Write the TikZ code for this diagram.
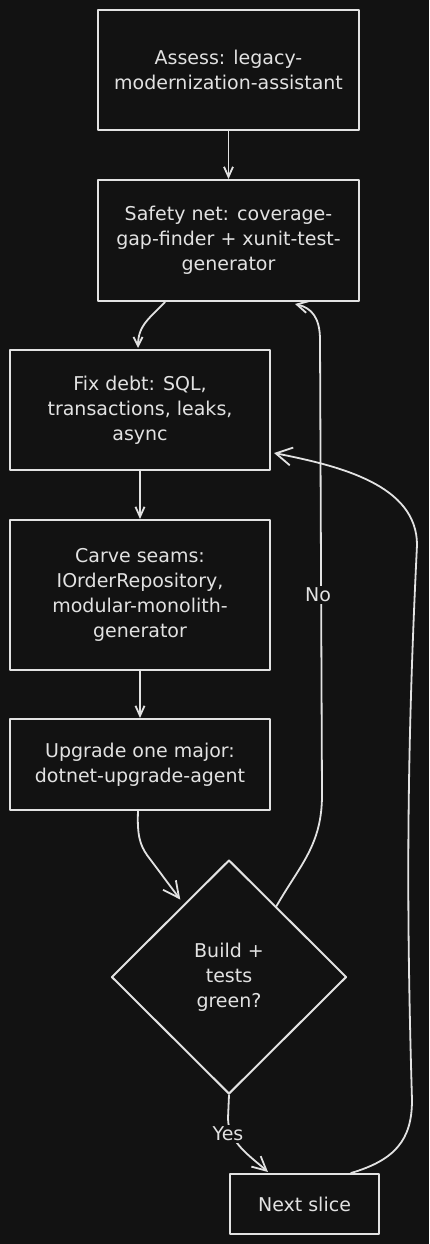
\documentclass[tikz,border=0pt]{standalone}
\usepackage{fontspec}
\setmainfont{DejaVu Sans}
\usetikzlibrary{shapes.geometric,arrows.meta,calc}
\definecolor{bg}{HTML}{121212}
\definecolor{ink}{HTML}{E2E2E2}
\begin{document}
\begin{tikzpicture}[x=1pt,y=-1pt,line join=round,line cap=round,
  box/.style={draw=ink,line width=2pt,text=ink,align=center,inner sep=0pt,
    font=\fontsize{19}{25}\selectfont},
  conn/.style={draw=ink,line width=1.8pt},
  lbl/.style={fill=bg,text=ink,inner sep=2pt,font=\fontsize{19}{25}\selectfont}]
\fill[bg] (0,0) rectangle (429,1244);
\useasboundingbox (0,0) rectangle (429,1244);

\node[box,minimum width=261pt,minimum height=120pt] (assess) at (228.5,70) {Assess: legacy-\\modernization-assistant};
\node[box,minimum width=261pt,minimum height=121pt] (safety) at (228.5,240.5) {Safety net: coverage-\\gap-finder + xunit-test-\\generator};
\node[box,minimum width=260pt,minimum height=120pt] (fix) at (140,410) {Fix debt: SQL,\\transactions, leaks,\\async};
\node[box,minimum width=260pt,minimum height=150pt] (carve) at (140,595) {Carve seams:\\IOrderRepository,\\modular-monolith-\\generator};
\node[box,minimum width=260pt,minimum height=91pt] (upgrade) at (140,764.5) {Upgrade one major:\\dotnet-upgrade-agent};
\node[box,diamond,minimum width=235pt,minimum height=234pt] (check) at (229,977) {Build +\\tests\\green?};
\node[box,minimum width=149pt,minimum height=60pt] (next) at (304.5,1204) {Next slice};

% straight flow
\draw[conn,-{Straight Barb[length=10pt,width=9pt]}] (assess) -- (safety);
\draw[conn,-{Straight Barb[length=9pt,width=9pt]}] ($(safety.south)+(-63.5,0)$) .. controls (150,318) and (138,325) .. ($(fix.north)+(-2,-1)$);
\draw[conn,-{Straight Barb[length=10pt,width=9pt]}] (fix) -- (carve);
\draw[conn,-{Straight Barb[length=10pt,width=9pt]}] (carve) -- (upgrade);
\draw[conn,-{Straight Barb[length=16pt,width=16pt]}] ($(upgrade.south)+(-2,0)$) .. controls (137,835) and (140,845) .. (147,855) -- ($(check.north west)+(10.5,-18.5)$);

% No loop
\draw[conn,-{Straight Barb[length=11pt,width=12pt]}] ($(check.north)!0.4!(check.east)$) .. controls (300,865) and (322,845) .. (322,795) -- (320,340) .. controls (320,318) and (312,308) .. ($(safety.south)+(66.5,2)$);
\node[lbl] (nolbl) at (318,595) {No};

% Yes
\draw[conn,-{Straight Barb[length=14pt,width=14pt]}] (check.south) -- (228,1118) .. controls (228,1142) and (250,1156) .. ($(next.north west)+(39,-1)$);
\node[lbl] (yeslbl) at (228,1134) {Yes};

% next slice back to fix debt
\draw[conn,-{Straight Barb[length=16pt,width=18pt]}] ($(next.north east)+(-29,0)$) .. controls (395,1160) and (412,1140) .. (412,1100) .. controls (406,900) and (407,750) .. (417,545) .. controls (417,485) and (340,466) .. ($(fix.south east)+(3,-18)$);
\end{tikzpicture}
\end{document}
